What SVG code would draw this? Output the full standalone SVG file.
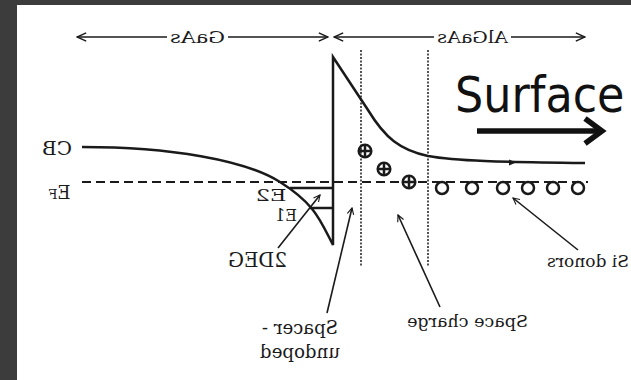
<svg xmlns="http://www.w3.org/2000/svg" width="631" height="380" viewBox="0 0 631 380">
<style>
.ln{fill:none;stroke:#1a1a1a;stroke-width:2.5}
.thin{fill:none;stroke:#1a1a1a;stroke-width:1.6}
.dash{fill:none;stroke:#1a1a1a;stroke-width:2;stroke-dasharray:9 5}
.dot{fill:none;stroke:#1a1a1a;stroke-width:1.5;stroke-dasharray:2 1.5}
.lbl{font-family:"DejaVu Serif","Liberation Serif",serif;fill:#1a1a1a;text-anchor:middle}
.don{fill:none;stroke:#1a1a1a;stroke-width:2.5}
</style>
<defs>
<marker id="oa" viewBox="0 0 10 10" refX="9" refY="5" markerWidth="8" markerHeight="8" markerUnits="userSpaceOnUse" orient="auto">
<path d="M1,1 L9,5 L1,9" fill="none" stroke="#1a1a1a" stroke-width="1.4"/>
</marker>
<marker id="ta" viewBox="0 0 12 12" refX="11" refY="6" markerWidth="11" markerHeight="11" markerUnits="userSpaceOnUse" orient="auto-start-reverse">
<path d="M1,1.5 L11,6 L1,10.5" fill="none" stroke="#1a1a1a" stroke-width="1.6"/>
</marker>
</defs>
<rect x="0" y="0" width="631" height="380" fill="#3c3c3c"/>
<rect x="17" y="5" width="614" height="375" fill="#ffffff"/>

<g id="gaas-extent">
<line class="thin" x1="77" y1="37" x2="167" y2="37" marker-start="url(#ta)"/>
<line class="thin" x1="228" y1="37" x2="328" y2="37" marker-end="url(#ta)"/>
<g transform="translate(197.5,42.5) scale(-1,1)"><text class="lbl" font-size="17" textLength="55" lengthAdjust="spacingAndGlyphs">GaAs</text></g>
</g>
<g id="algaas-extent">
<line class="thin" x1="334" y1="37" x2="434" y2="37" marker-start="url(#ta)"/>
<line class="thin" x1="511" y1="37" x2="585" y2="37" marker-end="url(#ta)"/>
<g transform="translate(472.5,42.5) scale(-1,1)"><text class="lbl" font-size="17" textLength="71" lengthAdjust="spacingAndGlyphs">AlGaAs</text></g>
</g>

<g id="band-diagram">
<path class="ln" d="M82,147 C170,147 245,160 280,182 S320,220 333,245 L333,57 C345,75 358,95 368,110 C385,138 400,150 428,156 C455,161 500,162 585,163"/>
<path d="M509,159.5 L516,162.5 L509,165.5 Z" fill="#1a1a1a"/>
<line class="dash" x1="82" y1="182" x2="588" y2="182"/>
<line class="dot" x1="361" y1="50" x2="361" y2="266"/>
<line class="dot" x1="428" y1="50" x2="428" y2="266"/>
<line class="ln" stroke-width="2" x1="290" y1="188" x2="333" y2="188"/>
<line class="ln" stroke-width="2" x1="310" y1="208" x2="333" y2="208"/>
</g>

<g id="ionized-donors">
<g class="don">
<circle cx="365" cy="151" r="6.3"/><path d="M358.7,151 H371.3 M365,144.7 V157.3"/>
<circle cx="384" cy="169" r="6.3"/><path d="M377.7,169 H390.3 M384,162.7 V175.3"/>
<circle cx="409" cy="182" r="6.3"/><path d="M402.7,182 H415.3 M409,175.7 V188.3"/>
</g>
</g>
<g id="si-donor-sites">
<g class="don">
<circle cx="442" cy="188" r="6"/><circle cx="472" cy="188" r="6"/><circle cx="503" cy="188" r="6"/>
<circle cx="528" cy="188" r="6"/><circle cx="553" cy="188" r="6"/><circle cx="578" cy="188" r="6"/>
</g>
</g>

<g id="surface">
<g transform="translate(455,112) scale(0.89,1)"><text x="0" y="0" font-family="DejaVu Sans,Verdana,sans-serif" font-size="50" fill="#111">Surface</text></g>
<line x1="477" y1="131" x2="598" y2="131" stroke="#111" stroke-width="5.5"/>
<path d="M585,118.5 L602,131 L585,143.5" fill="none" stroke="#111" stroke-width="5.5" stroke-linejoin="miter"/>
</g>

<g id="label-cb"><g transform="translate(57,155) scale(-1,1)"><text class="lbl" font-size="19" textLength="30" lengthAdjust="spacingAndGlyphs">CB</text></g></g>
<g id="label-ef"><g transform="translate(59.5,198.5) scale(-1,1)"><text class="lbl" font-size="18">E<tspan font-size="13">F</tspan></text></g></g>
<g id="label-e2"><g transform="translate(271,201) scale(-1,1)"><text class="lbl" font-size="17" textLength="31" lengthAdjust="spacingAndGlyphs">E2</text></g></g>
<g id="label-e1"><g transform="translate(286,221) scale(-1,1)"><text class="lbl" font-size="17" textLength="22" lengthAdjust="spacingAndGlyphs">E1</text></g></g>
<g id="label-2deg"><g transform="translate(257.5,267) scale(-1,1)"><text class="lbl" font-size="20" textLength="59" lengthAdjust="spacingAndGlyphs">2DEG</text></g></g>
<g id="label-spacer"><g transform="translate(300,334) scale(-1,1)"><text class="lbl" font-size="18" textLength="76" lengthAdjust="spacingAndGlyphs">Spacer -</text></g>
<g transform="translate(300,358) scale(-1,1)"><text class="lbl" font-size="18" textLength="80" lengthAdjust="spacingAndGlyphs">undoped</text></g></g>
<g id="label-space-charge"><g transform="translate(467.5,327) scale(-1,1)"><text class="lbl" font-size="17.5" textLength="121" lengthAdjust="spacingAndGlyphs">Space charge</text></g></g>
<g id="label-si-donors"><g transform="translate(588,267) scale(-1,1)"><text class="lbl" font-size="17.5" textLength="82" lengthAdjust="spacingAndGlyphs">Si donors</text></g></g>

<g id="connectors">
<line class="thin" stroke-width="1.8" x1="278" y1="248" x2="320" y2="195" marker-end="url(#oa)"/>
<line class="thin" stroke-width="1.8" x1="327" y1="313" x2="352" y2="208" marker-end="url(#oa)"/>
<line class="thin" stroke-width="1.8" x1="440" y1="307" x2="398" y2="215" marker-end="url(#oa)"/>
<line class="thin" stroke-width="1.8" x1="578" y1="250" x2="513" y2="198" marker-end="url(#oa)"/>
</g>
</svg>
